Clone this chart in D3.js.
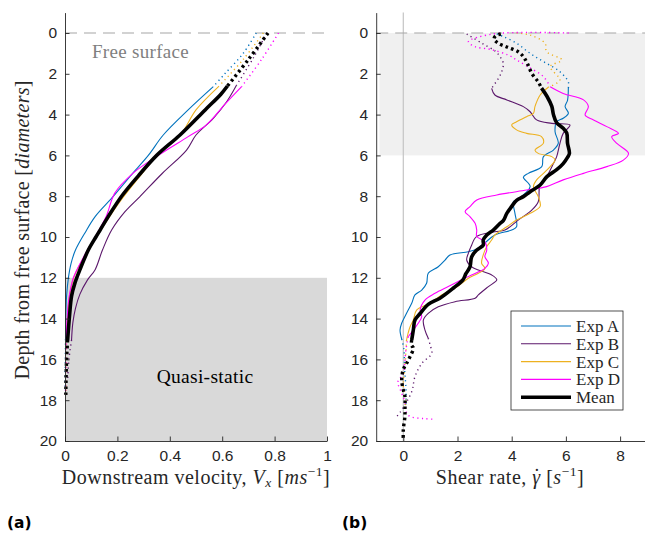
<!DOCTYPE html>
<html>
<head>
<meta charset="utf-8">
<script src="https://cdn.jsdelivr.net/npm/d3@7"></script>
<style>
  body { margin: 0; background: #fff; }
  text { font-kerning: normal; }
</style>
</head>
<body>
<div id="viz"></div>
<script>
const width = 645;
const height = 533;

const seriesNames = ['Exp A', 'Exp B', 'Exp C', 'Exp D', 'Mean'];
const colors = ['#0072bd', '#5b176b', '#edb120', '#ff00ff', '#000000'];
const depthTicks = [0, 2, 4, 6, 8, 10, 12, 14, 16, 18, 20];
const velTicks = [0, 0.2, 0.4, 0.6, 0.8, 1];
const shearTicks = [0, 2, 4, 6, 8];

// velocity profiles: [depth, Vx]
const velTop = [
  [[0, 0.73], [1, 0.68], [2, 0.61], [2.63, 0.566]],
  [[0, 0.77], [1.2, 0.72], [2.55, 0.655]],
  [[0, 0.757], [1.3, 0.68], [2.6, 0.588]],
  [[0, 0.815], [1.3, 0.75], [2.63, 0.674]],
  [[0, 0.775], [1.3, 0.70], [2.6, 0.62]]
];
const velMid = [
  [[2.63, 0.566], [3.77, 0.47], [5, 0.375], [6, 0.318], [7, 0.25], [8, 0.185], [9, 0.115], [9.8, 0.076],
   [10.64, 0.04], [11.3, 0.023], [12, 0.013], [12.9, 0.006], [13.9, 0.003], [15, 0.002]],
  [[2.55, 0.655], [3.37, 0.617], [4.18, 0.566], [5, 0.50], [5.74, 0.464], [6.9, 0.37], [8.02, 0.286],
   [8.76, 0.229], [9.66, 0.178], [10.64, 0.143], [11.6, 0.115], [12.1, 0.086], [12.8, 0.057],
   [13.5, 0.04], [14.2, 0.03], [15.05, 0.025]],
  [[2.6, 0.588], [3.77, 0.50], [4.67, 0.458], [5, 0.439], [6, 0.353], [7, 0.287], [8, 0.225],
   [9, 0.17], [10, 0.12], [11, 0.072], [12, 0.033], [13, 0.017], [14, 0.01], [15, 0.006]],
  [[2.63, 0.674], [3.5, 0.61], [4.5, 0.54], [5.08, 0.47], [6, 0.356], [6.87, 0.26], [7.85, 0.19],
   [9.0, 0.157], [10, 0.115], [11, 0.07], [12, 0.032], [13, 0.015], [14, 0.008], [15, 0.005]],
  [[2.6, 0.62], [3, 0.595], [3.77, 0.535], [5, 0.439], [6, 0.35], [7, 0.28], [8, 0.216], [9, 0.165],
   [9.66, 0.134], [10, 0.118], [10.64, 0.089], [11.6, 0.057], [12.25, 0.038], [12.9, 0.025],
   [13.9, 0.017], [15.05, 0.01]]
];
const velBot = [
  [[15, 0.002], [16.5, 0.001], [17.5, 0.001]],
  [[15.05, 0.025], [16, 0.015], [17, 0.01]],
  [[15, 0.006], [16.5, 0.004], [17.6, 0.003]],
  [[15, 0.005], [16.5, 0.003], [17.6, 0.002]],
  [[15.05, 0.01], [16, 0.006], [17, 0.004], [17.8, 0.003]]
];

// shear rate profiles: [depth, gamma dot]
const shearTop = [
  [[0.05, 3.45], [0.18, 3.69], [0.5, 4.18], [1.0, 4.68], [1.4, 5.17], [1.9, 5.78], [2.4, 6.09], [2.7, 6.09]],
  [[0.05, 2.34], [0.5, 2.9], [0.9, 3.4], [1.16, 3.57], [1.49, 3.69], [1.9, 3.63], [2.22, 3.51], [2.71, 3.26]],
  [[0, 4.18], [0.1, 4.68], [0.5, 5.23], [0.92, 5.29], [1.32, 5.85], [1.65, 5.42], [2.3, 5.78], [2.66, 5.35]],
  [[0, 6.1], [0.05, 3.3], [0.43, 2.4], [0.67, 2.65], [0.8, 3.2], [1.08, 3.87], [1.32, 4.18], [1.65, 4.6],
   [2.14, 5.17], [2.63, 5.42]],
  [[0.05, 3.6], [0.15, 3.4], [0.3, 3.35], [0.5, 3.5], [0.7, 3.85], [0.92, 4.24], [1.16, 4.43], [1.5, 4.58],
   [2.0, 4.75], [2.4, 4.98], [2.7, 5.1]]
];
const shearMid = [
  [[2.7, 6.09], [3.3, 6.06], [3.6, 5.97], [3.94, 6.09], [4.18, 5.9], [4.35, 5.66], [4.84, 5.6], [5.4, 5.72],
   [5.74, 5.54], [6.06, 5.17], [6.55, 5.11], [6.88, 4.61], [7.07, 4.43], [7.53, 4.68], [8.19, 4.18],
   [8.27, 4.06], [8.84, 4.12], [9.5, 4.18], [9.66, 4.0], [9.9, 3.38], [10.3, 3.0], [10.6, 2.7],
   [10.72, 2.4], [10.88, 1.72], [11.13, 1.54], [11.46, 1.29], [11.78, 0.92], [12.27, 0.86], [12.6, 0.68],
   [12.84, 0.43], [13.25, 0.31], [13.74, 0.12], [14.23, -0.06], [14.56, -0.12], [15.0, -0.06]],
  [[2.71, 3.26], [3.04, 3.38], [3.28, 3.82], [3.61, 4.43], [3.86, 4.68], [4.26, 4.92], [4.43, 5.48],
   [4.51, 6.15], [4.92, 5.9], [5.41, 5.78], [6.06, 5.66], [6.4, 5.54], [7.04, 5.29], [7.45, 5.04],
   [8.27, 4.98], [8.68, 4.74], [9.17, 4.24], [9.66, 3.75], [9.74, 3.38], [9.98, 2.7], [10.47, 2.5],
   [10.8, 2.4], [11.13, 2.34], [11.46, 2.52], [11.62, 2.77], [11.86, 3.26], [12.1, 3.45], [12.43, 3.14],
   [12.84, 2.77], [13.0, 2.65], [13.17, 1.91], [13.42, 1.29], [13.74, 0.92], [14.07, 0.74], [14.56, 0.8],
   [14.96, 0.92]],
  [[2.66, 5.35], [3.04, 5.05], [3.6, 4.86], [3.94, 4.8], [4.1, 4.55], [4.35, 4.18], [4.5, 4.0], [4.75, 4.18],
   [4.92, 4.55], [5.08, 5.1], [5.4, 5.17], [5.74, 4.86], [5.9, 4.98], [6.06, 5.48], [6.22, 5.6],
   [6.55, 5.42], [6.88, 5.17], [7.2, 4.92], [7.53, 4.8], [8.02, 4.98], [8.5, 5.05], [8.84, 4.68],
   [9.17, 4.18], [9.5, 3.82], [9.9, 3.38], [10.15, 3.26], [10.47, 3.08], [10.88, 2.95], [11.29, 2.89],
   [11.54, 3.01], [11.78, 2.77], [12.02, 2.4], [12.45, 1.97], [12.9, 1.35], [13.25, 0.98], [13.58, 0.49],
   [14.07, 0.37], [14.4, 0.25], [14.7, 0.18], [15.05, 0.12]],
  [[2.63, 5.42], [2.96, 5.9], [3.28, 6.65], [3.61, 6.83], [4.02, 6.71], [4.26, 7.02], [4.59, 7.51],
   [4.92, 7.94], [5.08, 7.69], [5.41, 7.88], [5.9, 8.31], [6.23, 8.12], [6.55, 7.51], [6.88, 6.65],
   [7.2, 5.9], [7.53, 5.29], [7.7, 4.55], [7.94, 3.45], [8.19, 2.71], [8.51, 2.46], [8.76, 2.28],
   [9.0, 2.46], [9.33, 2.65], [9.66, 2.71], [9.98, 2.71], [10.23, 3.01], [10.64, 3.08], [10.96, 3.01],
   [11.29, 3.14], [11.54, 3.01], [11.86, 2.52], [12.1, 2.15], [12.43, 1.66], [12.76, 1.17], [13.09, 0.8],
   [13.58, 0.62], [13.9, 0.68], [14.23, 0.55], [14.56, 0.37], [14.89, 0.18]],
  [[2.7, 5.1], [3.1, 5.3], [3.6, 5.48], [4.0, 5.54], [4.4, 5.66], [4.67, 5.9], [4.9, 6.03], [5.4, 6.06],
   [5.9, 6.13], [6.1, 6.06], [6.4, 5.9], [6.7, 5.66], [7.04, 5.3], [7.45, 5.05], [7.78, 4.68],
   [8.02, 4.43], [8.2, 4.18], [8.5, 4.0], [8.84, 3.82], [9.2, 3.69], [9.33, 3.57], [9.66, 3.32],
   [9.9, 3.08], [10.15, 2.95], [10.4, 2.95], [10.65, 2.7], [10.98, 2.52], [11.47, 2.46], [11.8, 2.31],
   [12.1, 2.2], [12.5, 1.85], [13.0, 1.35], [13.3, 0.92], [13.75, 0.62], [14.07, 0.43], [14.56, 0.37],
   [15.05, 0.31]]
];
const shearBot = [
  [[15, -0.06], [15.5, 0.02], [16.5, 0.05], [17.5, 0.1], [18.2, 0.1]],
  [[14.96, 0.92], [15.3, 0.99], [15.7, 1.05], [16.2, 0.68], [16.85, 0.43], [17.58, 0.31], [18.6, -0.12],
   [18.87, -0.3]],
  [[15.05, 0.12], [15.6, 0.1], [16.5, 0.05], [17.3, 0.0], [18.0, 0.1], [18.4, 0.05]],
  [[14.89, 0.18], [15.5, 0.1], [16.2, 0.05], [16.7, 0], [17.1, -0.2], [17.65, -0.06], [18.1, 0.06],
   [18.6, 0.12], [18.8, 0.25], [18.9, 0.74], [18.93, 1.1]],
  [[15.05, 0.31], [15.3, 0.3], [15.45, 0.37], [15.86, 0.25], [16.2, 0.12], [16.5, 0], [17, -0.06],
   [17.5, 0], [17.8, 0.06], [18.5, 0.06], [18.8, 0.06], [19.45, 0], [20, 0]]
];

const serif = '"Liberation Serif", "DejaVu Serif", serif';
const sans = '"Liberation Sans", Arial, sans-serif';
const axisColor = '#262626';

const svg = d3.select('#viz')
  .append('svg')
  .attr('width', width)
  .attr('height', height)
  .attr('viewBox', [0, 0, width, height]);

const yScale = d3.scaleLinear().domain([-1, 20]).range([12.6, 441]);
const xVel = d3.scaleLinear().domain([0, 1]).range([65, 327]);
const xShear = d3.scaleLinear().domain([-1, 9]).range([376.2, 647.2]);

// shaded regions
svg.append('rect')
  .attr('x', xVel(0)).attr('y', yScale(12))
  .attr('width', xVel(1) - xVel(0)).attr('height', yScale(20) - yScale(12))
  .attr('fill', '#d9d9d9');

svg.append('rect')
  .attr('x', xShear(-0.88)).attr('y', yScale(0))
  .attr('width', xShear(9) - xShear(-0.88)).attr('height', yScale(6) - yScale(0))
  .attr('fill', '#f0f0f0');

svg.append('line')
  .attr('x1', xShear(0)).attr('x2', xShear(0))
  .attr('y1', yScale(-1)).attr('y2', yScale(20))
  .attr('stroke', '#c4c4c4').attr('stroke-width', 1.2);

// free surface dashed lines
[[xVel(0), xVel(1)], [xShear(-1), xShear(9)]].forEach(([a, b]) => {
  svg.append('line')
    .attr('x1', a).attr('x2', b)
    .attr('y1', yScale(0)).attr('y2', yScale(0))
    .attr('stroke', '#a6a6a6').attr('stroke-width', 1.2)
    .attr('stroke-dasharray', '12,7');
});

svg.append('text')
  .attr('x', 92).attr('y', 58)
  .attr('font-family', serif).attr('font-size', 19)
  .attr('letter-spacing', 0.3)
  .attr('fill', '#7f7f7f')
  .text('Free surface');

svg.append('text')
  .attr('x', 205).attr('y', 383)
  .attr('text-anchor', 'middle')
  .attr('font-family', serif).attr('font-size', 19.5)
  .attr('letter-spacing', 0.3)
  .attr('fill', '#000')
  .text('Quasi-static');

const drawSet = function(xScale, top, mid, bot) {
  const line = d3.line()
    .x(d => xScale(d[1]))
    .y(d => yScale(d[0]))
    .curve(d3.curveCatmullRom.alpha(0.5));

  seriesNames.forEach((name, i) => {
    const isMean = i === 4;
    const w = isMean ? 3.6 : 1.1;
    const dots = isMean ? '2.6,3.2' : '1.2,3.4';
    [top[i], bot[i]].forEach(seg => {
      svg.append('path')
        .attr('d', line(seg))
        .attr('fill', 'none')
        .attr('stroke', colors[i])
        .attr('stroke-width', isMean ? 3.4 : 1.4)
        .attr('stroke-dasharray', dots);
    });
    svg.append('path')
      .attr('d', line(mid[i]))
      .attr('fill', 'none')
      .attr('stroke', colors[i])
      .attr('stroke-width', w)
      .attr('stroke-linejoin', 'round');
  });
};

drawSet(xVel, velTop, velMid, velBot);
drawSet(xShear, shearTop, shearMid, shearBot);

const styleAxis = function(g) {
  g.select('.domain').attr('stroke', axisColor).attr('stroke-width', 0.9);
  g.selectAll('.tick line').attr('stroke', axisColor).attr('stroke-width', 0.9);
  g.selectAll('.tick text')
    .attr('fill', axisColor)
    .attr('font-family', sans)
    .attr('font-size', 15.5);
};

[[xVel, velTicks], [xShear, shearTicks]].forEach(([xs, ticks]) => {
  svg.append('g')
    .attr('transform', `translate(0, ${yScale(20)})`)
    .call(d3.axisBottom(xs).tickValues(ticks).tickFormat(d3.format('')).tickSizeInner(-4.5).tickSizeOuter(0).tickPadding(9))
    .call(styleAxis);

  svg.append('g')
    .attr('transform', `translate(${xs.range()[0]}, 0)`)
    .call(d3.axisLeft(yScale).tickValues(depthTicks).tickSizeInner(-4.5).tickSizeOuter(0).tickPadding(8))
    .call(styleAxis);
});

// axis titles
const titleSize = 20;
const supSize = 13.5;

const xLabel1 = svg.append('text')
  .attr('x', 196).attr('y', 484)
  .attr('text-anchor', 'middle')
  .attr('font-family', serif).attr('font-size', titleSize)
  .attr('letter-spacing', 0.5)
  .attr('fill', axisColor);
xLabel1.append('tspan').text('Downstream velocity, ');
xLabel1.append('tspan').attr('font-style', 'italic').text('V');
xLabel1.append('tspan').attr('font-style', 'italic').attr('font-size', supSize).attr('dy', 3).text('x');
xLabel1.append('tspan').attr('dy', -3).text(' [');
xLabel1.append('tspan').attr('font-style', 'italic').text('ms');
xLabel1.append('tspan').attr('font-size', supSize).attr('dy', -8).text('−1');
xLabel1.append('tspan').attr('dy', 8).text(']');

const xLabel2 = svg.append('text')
  .attr('x', 510).attr('y', 484)
  .attr('text-anchor', 'middle')
  .attr('font-family', serif).attr('font-size', titleSize)
  .attr('letter-spacing', 0.5)
  .attr('fill', axisColor);
xLabel2.append('tspan').text('Shear rate, ');
xLabel2.append('tspan').attr('font-style', 'italic').text('γ');
xLabel2.append('tspan').attr('dx', -7.2).attr('dy', -1).text('˙');
xLabel2.append('tspan').attr('dy', 1).text(' [');
xLabel2.append('tspan').attr('font-style', 'italic').text('s');
xLabel2.append('tspan').attr('font-size', supSize).attr('dy', -8).text('−1');
xLabel2.append('tspan').attr('dy', 8).text(']');

const yLabel = svg.append('text')
  .attr('transform', `translate(29, ${yScale(9.65)}) rotate(-90)`)
  .attr('text-anchor', 'middle')
  .attr('font-family', serif).attr('font-size', titleSize)
  .attr('letter-spacing', 0.3)
  .attr('fill', axisColor);
yLabel.append('tspan').text('Depth from free surface [');
yLabel.append('tspan').attr('font-style', 'italic').text('diameters');
yLabel.append('tspan').text(']');

// legend
const legend = svg.append('g').attr('transform', 'translate(511, 311)');
legend.append('rect')
  .attr('width', 112).attr('height', 99)
  .attr('fill', '#fff').attr('stroke', '#262626').attr('stroke-width', 0.8);
seriesNames.forEach((name, i) => {
  const row = legend.append('g').attr('transform', `translate(0, ${15 + i * 17.8})`);
  row.append('line')
    .attr('x1', 10).attr('x2', 60)
    .attr('stroke', colors[i])
    .attr('stroke-width', i === 4 ? 3.6 : 1.1);
  row.append('text')
    .attr('x', 65).attr('y', 6)
    .attr('font-family', serif).attr('font-size', 17)
    .attr('fill', axisColor)
    .text(name);
});

// panel letters
svg.append('text').attr('x', 7).attr('y', 528)
  .attr('font-family', '"DejaVu Sans", sans-serif').attr('font-weight', 'bold').attr('font-size', 15.5)
  .text('(a)');
svg.append('text').attr('x', 342).attr('y', 528)
  .attr('font-family', '"DejaVu Sans", sans-serif').attr('font-weight', 'bold').attr('font-size', 15.5)
  .text('(b)');
</script>
</body>
</html>
